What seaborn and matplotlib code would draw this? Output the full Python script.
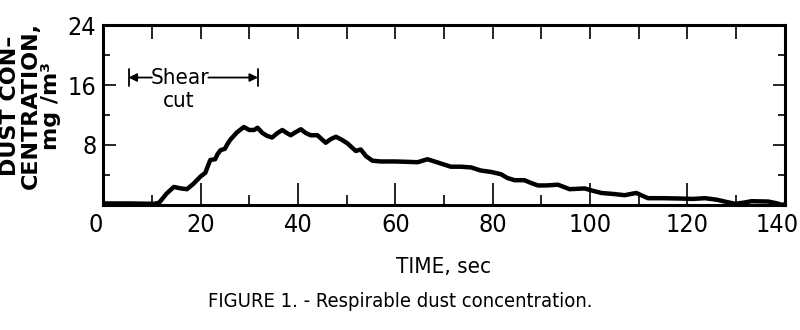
import numpy as np
import pandas as pd
import seaborn as sns
import matplotlib.pyplot as plt
import matplotlib.transforms as mtransforms
from matplotlib.ticker import MultipleLocator

# =========================
# data
# =========================
time_sec = [0, 5, 10.5, 11.5, 13, 14.5, 16, 17.2, 18.5, 20, 21, 21.5, 22, 23, 23.5,
            24.1, 25, 25.5, 26.1, 27.5, 28.9, 30, 31, 31.7, 32.7, 33.7, 34.7, 35.8,
            36.8, 37.7, 38.5, 39.5, 40.6, 41.6, 42.6, 44, 45.7, 46.8, 47.8, 49, 50.2,
            51.2, 51.9, 52.9, 54, 55.3, 57, 60, 62.5, 64.6, 66.6, 69, 71.4, 73.5, 75.6,
            77.5, 79.7, 81.7, 83, 84.5, 86.5, 88, 89.3, 91, 93.4, 95.8, 98.9, 100.5,
            102.3, 105, 107.1, 109.5, 110.5, 111.9, 115, 118.8, 121, 123.6, 126, 128,
            129.8, 131.5, 133.2, 136.6, 138.5, 139.4, 140]
dust_mg_m3 = [0.2, 0.2, 0.15, 0.3, 1.5, 2.4, 2.2, 2.1, 2.8, 3.8, 4.3, 5.2, 6.0, 6.1, 6.8,
              7.3, 7.5, 8.1, 8.7, 9.7, 10.4, 10.0, 10.0, 10.3, 9.6, 9.2, 9.0, 9.6,
              10.0, 9.6, 9.3, 9.7, 10.1, 9.6, 9.3, 9.3, 8.3, 8.8, 9.1, 8.7, 8.2,
              7.6, 7.2, 7.4, 6.5, 5.9, 5.8, 5.8, 5.75, 5.7, 6.1, 5.6, 5.1, 5.1, 5.0,
              4.6, 4.4, 4.1, 3.6, 3.3, 3.3, 2.9, 2.6, 2.6, 2.7, 2.1, 2.2, 1.9,
              1.6, 1.45, 1.3, 1.6, 1.3, 0.9, 0.9, 0.85, 0.8, 0.9, 0.7, 0.4,
              0.15, 0.3, 0.5, 0.45, 0.2, 0.0, 0.1]

x_ticks = [0, 20, 40, 60, 80, 100, 120, 140]
y_ticks = [8, 16, 24]
shear_start, shear_end, shear_level = 5.2, 31.8, 17

df = pd.DataFrame({"time": time_sec, "dust": dust_mg_m3})

sns.set_style("ticks")
plt.rcParams['font.family'] = ['DejaVu Sans']
plt.rcParams['font.stretch'] = 'condensed'
plt.rcParams['text.color'] = 'black'
plt.rcParams['xtick.color'] = 'black'
plt.rcParams['ytick.color'] = 'black'
plt.rcParams['axes.labelcolor'] = 'black'
plt.rcParams['axes.edgecolor'] = 'black'

fig = plt.figure(figsize=(8, 3.3), dpi=100)
ax = fig.add_axes([0.129, 0.379, 0.852, 0.545])

sns.lineplot(data=df, x="time", y="dust", color="black", linewidth=3.2, ax=ax)

ax.set_xlim(0, 140)
ax.set_ylim(0, 24)
ax.set_xticks(x_ticks)
ax.set_yticks(y_ticks)
ax.xaxis.set_minor_locator(MultipleLocator(10))
ax.yaxis.set_minor_locator(MultipleLocator(4))
ax.tick_params(axis="x", which="major", direction="in", length=16, width=1.2,
               labelsize=18, pad=6, top=False)
ax.tick_params(axis="x", which="minor", direction="in", length=7, width=1.2, top=False)
ax.tick_params(axis="y", which="major", direction="in", length=9, width=1.2,
               labelsize=18, pad=5, right=True)
ax.tick_params(axis="y", which="minor", direction="in", length=5, width=1.2, right=True)
for s in ax.spines.values():
    s.set_linewidth(2.2)

# the end labels sit a little left of their ticks in the original
for lbl in (ax.get_xticklabels()[0], ax.get_xticklabels()[-1]):
    lbl.set_transform(lbl.get_transform() +
                      mtransforms.ScaledTranslation(-8 / 100, 0, fig.dpi_scale_trans))

top = ax.secondary_xaxis("top")
top.set_xticks(np.arange(10, 140, 10))
top.tick_params(direction="in", length=10, width=1.2, labeltop=False)
top.spines["top"].set_visible(False)

ax.set_xlabel("TIME, sec", fontsize=16, labelpad=14)
ax.set_ylabel("")

# shear cut bracket
ax.plot([shear_start, shear_start], [shear_level - 1.1, shear_level + 1.1], color="black", lw=1.3)
ax.plot([shear_end, shear_end], [shear_level - 1.1, shear_level + 1.1], color="black", lw=1.3)
ax.annotate("", xy=(shear_start, shear_level), xytext=(10.0, shear_level),
            arrowprops=dict(arrowstyle="-|>", color="black", lw=1.3, mutation_scale=12,
                            shrinkA=0, shrinkB=0))
ax.annotate("", xy=(shear_end, shear_level), xytext=(21.6, shear_level),
            arrowprops=dict(arrowstyle="-|>", color="black", lw=1.3, mutation_scale=12,
                            shrinkA=0, shrinkB=0))
ax.text(15.8, shear_level, "Shear", fontsize=16, ha="center", va="center")
ax.text(15.5, 13.9, "cut", fontsize=16, ha="center", va="center")

fig.text(0.038, 0.68, "DUST CON\u2013\nCENTRATION,\nmg /m\u00b3", rotation=90,
         ha="center", va="center", fontsize=16, fontweight="bold",
         family="DejaVu Sans", stretch="normal", linespacing=1.02,
         multialignment="center")

fig.text(0.5, 0.085, "FIGURE 1. - Respirable dust concentration.", ha="center",
         va="center", fontsize=14.5)

fig.savefig("out.png", dpi=100)
